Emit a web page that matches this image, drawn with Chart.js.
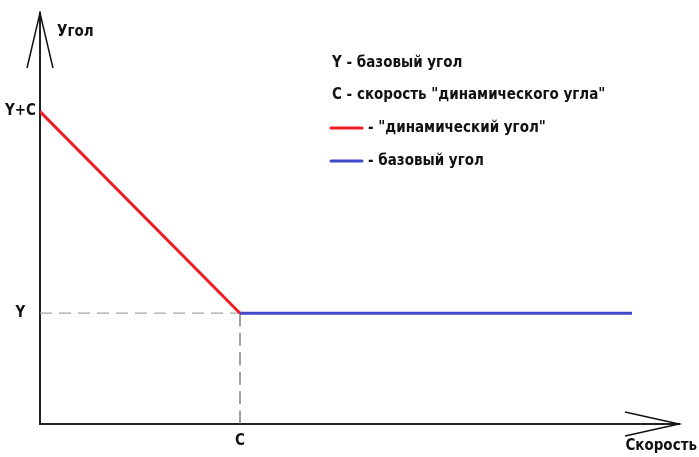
<!DOCTYPE html>
<html>
<head>
<meta charset="utf-8">
<script src="https://cdn.jsdelivr.net/npm/chart.js@4.4.1/dist/chart.umd.min.js"></script>
<style>
  body { margin: 0; background: #fff; }
  #wrap { width: 699px; height: 457px; }
</style>
</head>
<body>
<div id="wrap"><canvas id="chart"></canvas></div>
<script>
// Значения (условные единицы)
const speedTicks = [1]
const speedTickLabels = ["C"]
const angleTicks = [1, 2.82]
const angleTickLabels = ["Y", "Y+C"]

const dynamicSpeed = [0, 1]
const dynamicAngle = [2.82, 1]
const baseSpeed = [1, 2.96]
const baseAngle = [1, 1]
const guideHSpeed = [0, 1]
const guideHAngle = [1, 1]
const guideVSpeed = [1, 1]
const guideVAngle = [1, 0]

const speedMax = 3.195
const angleMax = 3.71

const notes = ["Y - базовый угол", "C - скорость \"динамического угла\""]
const seriesLabels = ["- \"динамический угол\"", "- базовый угол"]

const FONT = "'DejaVu Sans Condensed', Roboto, sans-serif"

const toPoints = (xs, ys) => xs.map((x, i) => ({ x: x, y: ys[i] }))

Chart.defaults.font.family = FONT
Chart.defaults.font.weight = "bold"
Chart.defaults.color = "#111"

// Стрелки осей, подписи осей и легенда
const axesDecor = {
  id: "axesDecor",
  afterDraw(chart) {
    const { ctx, chartArea } = chart
    const { left, top, right, bottom } = chartArea
    ctx.save()
    ctx.strokeStyle = "#111"
    ctx.lineWidth = 1.5
    ctx.beginPath()
    ctx.moveTo(left - 13, top + 55)
    ctx.lineTo(left, top)
    ctx.lineTo(left + 13, top + 55)
    ctx.moveTo(right - 54, bottom - 12)
    ctx.lineTo(right, bottom)
    ctx.lineTo(right - 54, bottom + 12)
    ctx.stroke()

    ctx.fillStyle = "#111"
    ctx.font = "bold 15px " + FONT
    ctx.textBaseline = "middle"
    ctx.textAlign = "left"
    ctx.fillText("Угол", left + 17, top + 19)
    ctx.textAlign = "right"
    ctx.fillText("Скорость", 697, bottom + 22)

    // легенда
    ctx.textAlign = "left"
    const lx = 330
    notes.forEach((t, i) => ctx.fillText(t, lx + 2, 63 + i * 32))
    const ds = chart.data.datasets
    seriesLabels.forEach((t, i) => {
      const y = 128 + i * 33
      ctx.strokeStyle = ds[i].borderColor
      ctx.lineWidth = 3
      ctx.lineCap = "round"
      ctx.beginPath()
      ctx.moveTo(lx + 1, y)
      ctx.lineTo(lx + 32, y)
      ctx.stroke()
      ctx.fillText(t, lx + 38, y)
    })
    ctx.restore()
  },
}

new Chart(document.getElementById("chart"), {
  type: "scatter",
  data: {
    datasets: [
      {
        label: "динамический угол",
        data: toPoints(dynamicSpeed, dynamicAngle),
        showLine: true,
        borderColor: "#ee1c24",
        borderWidth: 3,
        pointRadius: 0,
        order: 1,
      },
      {
        label: "базовый угол",
        data: toPoints(baseSpeed, baseAngle),
        showLine: true,
        borderColor: "#4048cc",
        borderWidth: 3,
        pointRadius: 0,
        order: 1,
      },
      {
        label: "guide-h",
        data: toPoints(guideHSpeed, guideHAngle),
        showLine: true,
        borderColor: "#a8a8a8",
        borderWidth: 1.3,
        borderDash: [12, 7],
        pointRadius: 0,
        order: 2,
      },
      {
        label: "guide-v",
        data: toPoints(guideVSpeed, guideVAngle),
        showLine: true,
        borderColor: "#6e6e6e",
        borderWidth: 1.3,
        borderDash: [13, 6.5],
        pointRadius: 0,
        order: 2,
      },
    ],
  },
  options: {
    responsive: true,
    maintainAspectRatio: false,
    animation: false,
    layout: { padding: { top: 8, right: 20, left: 0, bottom: 0 } },
    plugins: { legend: { display: false }, tooltip: { enabled: false } },
    scales: {
      x: {
        type: "linear",
        min: 0,
        max: speedMax,
        afterBuildTicks: (s) => { s.ticks = speedTicks.map((v) => ({ value: v })) },
        afterFit: (s) => { s.height = 33 },
        ticks: {
          callback: (v, i) => speedTickLabels[i],
          font: { size: 15, weight: "bold" },
          padding: 8,
          maxRotation: 0,
        },
        grid: { display: false, drawTicks: false },
        border: { display: true, color: "#222", width: 2 },
      },
      y: {
        type: "linear",
        min: 0,
        max: angleMax,
        afterBuildTicks: (s) => { s.ticks = angleTicks.map((v) => ({ value: v })) },
        afterFit: (s) => { s.width = 40 },
        ticks: {
          callback: (v, i) => angleTickLabels[i],
          font: { size: 15, weight: "bold" },
          crossAlign: "center",
          padding: 4,
        },
        grid: { display: false, drawTicks: false },
        border: { display: true, color: "#222", width: 2 },
      },
    },
  },
  plugins: [axesDecor],
})
</script>
</body>
</html>
